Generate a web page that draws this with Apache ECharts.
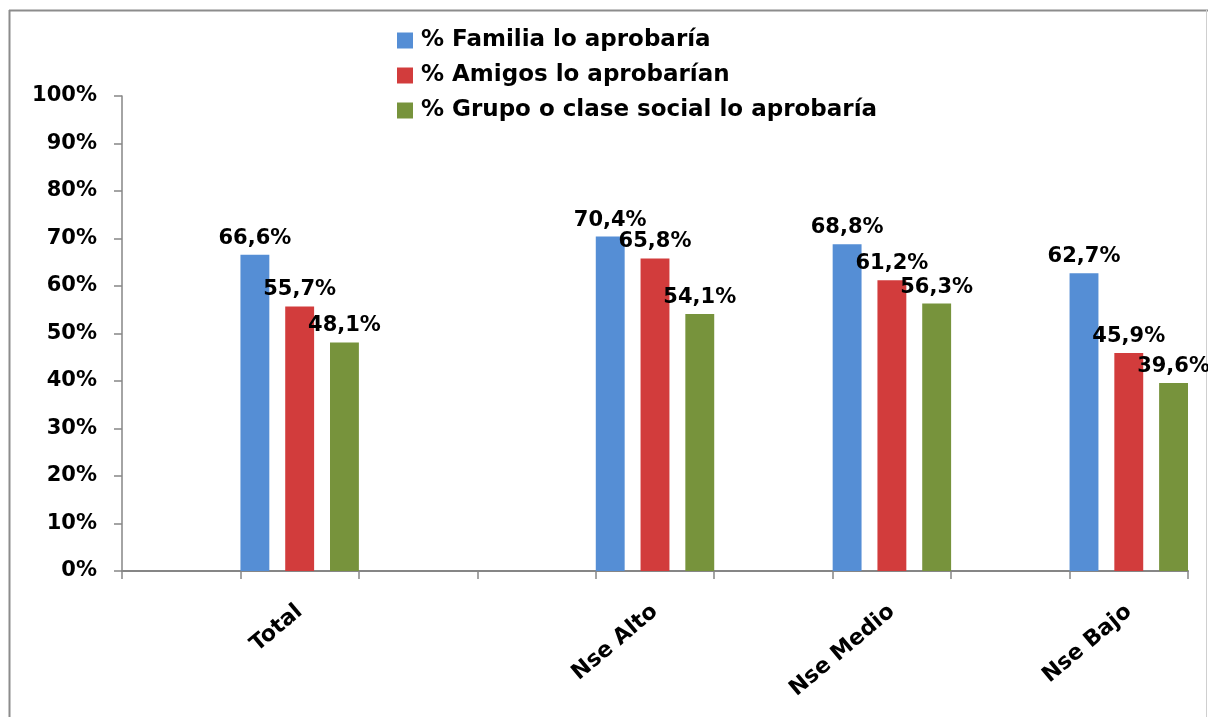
<!DOCTYPE html>
<html>
<head>
<meta charset="utf-8">
<script src="https://cdn.jsdelivr.net/npm/echarts@6/dist/echarts.min.js"></script>
<style>
  html, body { margin: 0; padding: 0; background: #fff; }
  #chart { width: 1208px; height: 717px; }
</style>
</head>
<body>
<div id="chart"></div>
<script>
// empty slots keep the Excel-style spacing between groups
const categories = ['', 'Total', '', '', 'Nse Alto', '', 'Nse Medio', '', 'Nse Bajo']
const familia = [null, 66.6, null, null, 70.4, null, 68.8, null, 62.7]
const amigos = [null, 55.7, null, null, 65.8, null, 61.2, null, 45.9]
const grupo = [null, 48.1, null, null, 54.1, null, 56.3, null, 39.6]
const seriesNames = ['% Familia lo aprobaría', '% Amigos lo aprobarían', '% Grupo o clase social lo aprobaría']
const colors = ['#558ed5', '#d23c3c', '#77933c']

const FONT = 'DejaVu Sans'

function fmtPct(v) {
  // 66.6 -> 66,6%
  return v.toFixed(1).replace('.', ',') + '%'
}

const chart = echarts.init(document.getElementById('chart'), null, { renderer: 'canvas' })

const labelStyle = {
  show: true,
  position: 'top',
  distance: 6,
  color: '#000',
  fontFamily: FONT,
  fontWeight: 'bold',
  fontSize: 21,
  formatter: (p) => fmtPct(p.value),
}

chart.setOption({
  backgroundColor: '#fff',
  animation: false,
  color: colors,
  textStyle: { fontFamily: FONT },
  legend: {
    orient: 'vertical',
    left: 392,
    top: 24,
    itemWidth: 16,
    itemHeight: 16,
    itemGap: 12,
    icon: 'rect',
    textStyle: { color: '#000', fontFamily: FONT, fontWeight: 'bold', fontSize: 23, padding: [0, 0, 0, 3] },
    data: seriesNames,
  },
  grid: { left: 122, right: 20, top: 96, bottom: 146 },
  xAxis: {
    type: 'category',
    data: categories,
    axisLine: { lineStyle: { color: '#868686', width: 2 } },
    axisTick: { show: true, length: 8, lineStyle: { color: '#868686', width: 1.5 } },
    axisLabel: {
      interval: 0,
      rotate: 40,
      margin: 38,
      color: '#000',
      fontFamily: FONT,
      fontWeight: 'bold',
      fontSize: 22,
    },
  },
  yAxis: {
    type: 'value',
    min: 0,
    max: 100,
    interval: 10,
    axisLine: { show: true, lineStyle: { color: '#868686', width: 1.5 } },
    axisTick: { show: true, length: 8, lineStyle: { color: '#868686', width: 1.5 } },
    splitLine: { show: false },
    axisLabel: {
      margin: 25,
      color: '#000',
      fontFamily: FONT,
      fontWeight: 'bold',
      fontSize: 21,
      formatter: '{value}%',
    },
  },
  series: [
    { name: seriesNames[0], type: 'bar', data: familia, barCategoryGap: '0%', barGap: '55%', label: labelStyle },
    { name: seriesNames[1], type: 'bar', data: amigos, barCategoryGap: '0%', barGap: '55%', label: labelStyle },
    { name: seriesNames[2], type: 'bar', data: grupo, barCategoryGap: '0%', barGap: '55%', label: labelStyle },
  ],
  graphic: [
    // frame lines of the original slide box
    { type: 'line', shape: { x1: 9.5, y1: 10, x2: 9.5, y2: 717 }, style: { stroke: '#8c8c8c', lineWidth: 2 } },
    { type: 'line', shape: { x1: 9, y1: 10.5, x2: 1208, y2: 10.5 }, style: { stroke: '#8c8c8c', lineWidth: 2 } },
    { type: 'line', shape: { x1: 1206.5, y1: 10, x2: 1206.5, y2: 717 }, style: { stroke: '#cfcfcf', lineWidth: 1 } },
  ],
})
</script>
</body>
</html>
